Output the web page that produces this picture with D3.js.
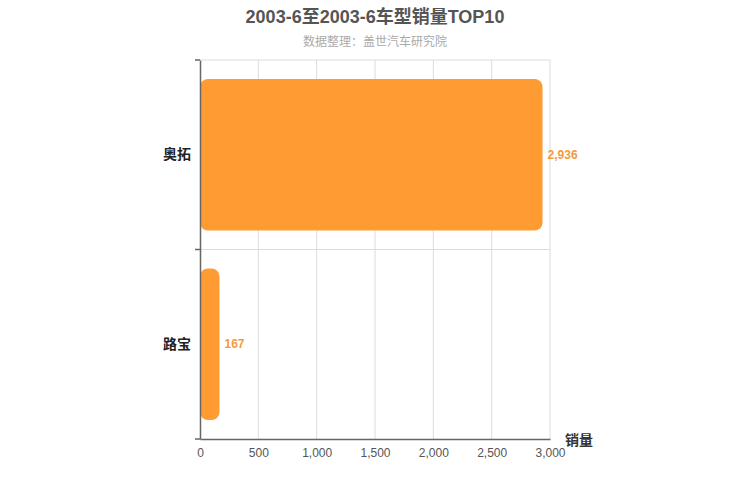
<!DOCTYPE html>
<html>
<head>
<meta charset="utf-8">
<script src="https://cdn.jsdelivr.net/npm/d3@7/dist/d3.min.js"></script>
<style>
body{margin:0;background:#fff;}
text{font-family:"Liberation Sans","Noto Sans CJK SC",sans-serif;}
</style>
</head>
<body>
<svg id="chart" width="750" height="500"></svg>
<script>
// data
var models = ["奥拓", "路宝"];
var sales = [2936, 167];
var xTicks = [0, 500, 1000, 1500, 2000, 2500, 3000];
var titleText = "2003-6至2003-6车型销量TOP10";
var subText = "数据整理：盖世汽车研究院";
var axisName = "销量";

var svg = d3.select("#chart");
var margin = {top: 60, left: 200, right: 200, bottom: 61};
var width = 750 - margin.left - margin.right;
var height = 500 - margin.top - margin.bottom;

var g = svg.append("g")
    .attr("transform", "translate(" + margin.left + "," + margin.top + ")");

var xScale = d3.scaleLinear().domain([0, 3000]).range([0, width]);
var yScale = d3.scaleBand().domain(models).range([0, height]).paddingInner(0).paddingOuter(0);

//grid
g.selectAll(".vgrid")
    .data(xTicks.slice(1))
    .enter()
    .append("line")
    .attr("x1", d => xScale(d)).attr("x2", d => xScale(d))
    .attr("y1", 0).attr("y2", height)
    .attr("stroke", "#dcdcdc");
g.selectAll(".hgrid")
    .data(models)
    .enter()
    .append("line")
    .attr("x1", 0).attr("x2", width)
    .attr("y1", d => yScale(d)).attr("y2", d => yScale(d))
    .attr("stroke", "#dcdcdc");

//bars
var bh = yScale.bandwidth() * 0.8;
g.selectAll(".bars")
    .data(models)
    .enter()
    .append("rect")
    .attr("class", "bars")
    .attr("x", xScale(0))
    .attr("y", (d, i) => yScale(d) + (yScale.bandwidth() - bh) / 2)
    .attr("width", (d, i) => xScale(sales[i]) - xScale(0))
    .attr("height", bh)
    .attr("rx", 8).attr("ry", 8)
    .attr("fill", "#ff9b33");

//value labels
g.selectAll(".vals")
    .data(models)
    .enter()
    .append("text")
    .attr("x", (d, i) => xScale(sales[i]) + 5)
    .attr("y", d => yScale(d) + yScale.bandwidth() / 2)
    .attr("dy", "0.35em")
    .attr("font-size", 12)
    .attr("fill", "#f59a3a")
    .style("font-weight", 600)
    .text((d, i) => d3.format(",")(sales[i]));

//x axis
var xAxis = g.append("g")
    .attr("transform", "translate(0," + height + ")")
    .call(d3.axisBottom(xScale).tickValues(xTicks).tickFormat(d3.format(",")).tickSize(0).tickPadding(9));
xAxis.select(".domain").attr("stroke", "#666").attr("stroke-width", 1.5);
xAxis.selectAll("text").attr("font-size", 12).attr("fill", "#555")
    .attr("font-family", "\"Liberation Sans\",sans-serif");

//y axis
var yAxis = g.append("g")
    .call(d3.axisLeft(yScale).tickSize(0).tickPadding(9));
yAxis.select(".domain").attr("stroke", "#666").attr("stroke-width", 1.5);
yAxis.selectAll("text").attr("font-size", 14).attr("fill", "#222")
    .attr("font-weight", "bold")
    .attr("font-family", "\"Noto Sans CJK SC\",sans-serif");
// category boundary ticks
g.selectAll(".ytick")
    .data(models.concat(["end"]))
    .enter()
    .append("line")
    .attr("x1", -5).attr("x2", 0)
    .attr("y1", (d, i) => i < models.length ? yScale(d) : height)
    .attr("y2", (d, i) => i < models.length ? yScale(d) : height)
    .attr("stroke", "#666").attr("stroke-width", 1.5);

//axis name
g.append("text")
    .attr("x", width + 15)
    .attr("y", height + 6)
    .attr("font-size", 14)
    .attr("font-weight", "bold")
    .attr("fill", "#333")
    .attr("font-family", "\"Noto Sans CJK SC\",sans-serif")
    .text(axisName);

//title
svg.append("text")
    .attr("x", 375).attr("y", 23)
    .attr("text-anchor", "middle")
    .attr("font-size", 18)
    .attr("font-weight", "bold")
    .attr("fill", "#555")
    .text(titleText);
svg.append("text")
    .attr("x", 375).attr("y", 46)
    .attr("text-anchor", "middle")
    .attr("font-size", 12)
    .attr("fill", "#aaa")
    .text(subText);
</script>
</body>
</html>
